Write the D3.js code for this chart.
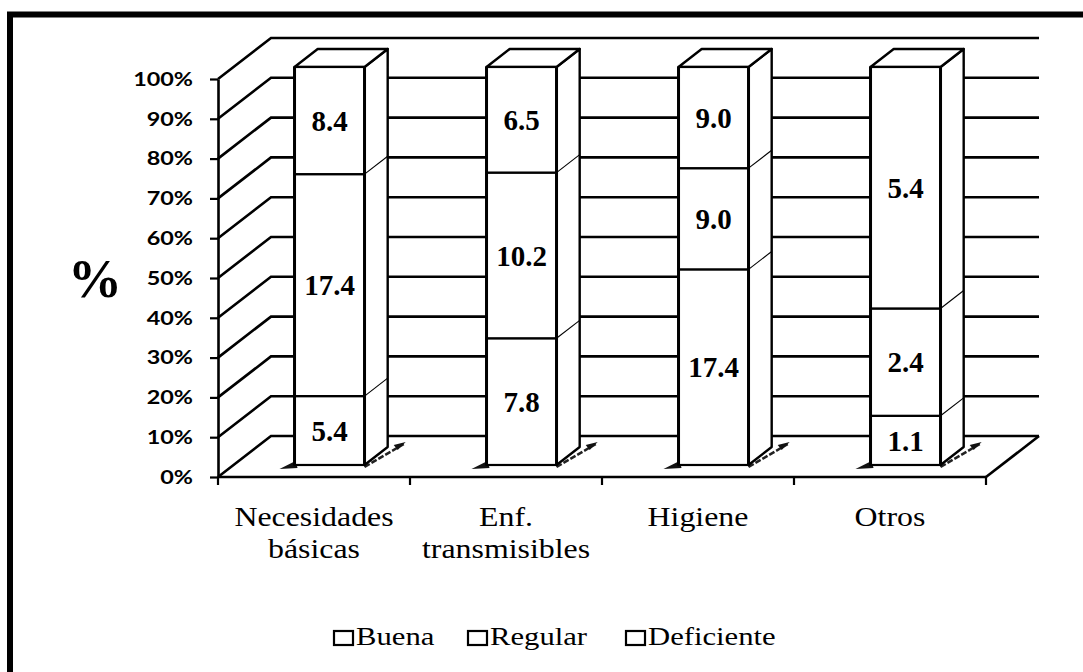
<!DOCTYPE html>
<html>
<head>
<meta charset="utf-8">
<script src="https://cdn.jsdelivr.net/npm/d3@7"></script>
<style>
  html, body { margin: 0; padding: 0; background: #fff; }
  svg { display: block; }
</style>
</head>
<body>
<svg id="chart" width="1083" height="672"></svg>
<script>
// ---- data ----
const categories = ["Necesidades básicas", "Enf. transmisibles", "Higiene", "Otros"];
const seriesNames = ["Buena", "Regular", "Deficiente"];
const buena      = [5.4, 7.8, 17.4, 1.1];
const regular    = [17.4, 10.2, 9.0, 2.4];
const deficiente = [8.4, 6.5, 9.0, 5.4];
const yTicks = [0, 10, 20, 30, 40, 50, 60, 70, 80, 90, 100];

// ---- layout ----
const svg = d3.select("#chart");
const SERIF = "'Liberation Serif', 'Times New Roman', serif";
const SANS = "Lato, 'Open Sans', sans-serif";
const DX = 53, DY = 41;          // depth of the 3D box
const zF = 0.293, zB = 0.73;     // bar front/back depth
const barW = 70;
const STRETCH = 1.18;

const x = d3.scaleBand().domain(categories).range([218, 986]).paddingInner(0).paddingOuter(0);
const y = d3.scaleLinear().domain([0, 100]).range([477, 79]);
const P = (px, v, z) => [px + z * DX, y(v) - z * DY];

// frame
svg.append("path").attr("d", "M10,672 V14.5 H1083").attr("fill", "none")
  .attr("stroke", "#000").attr("stroke-width", 6);

const g = svg.append("g");
const line = d3.line();

// back wall grid lines + left wall diagonals
yTicks.forEach(t => {
  const a = P(x.range()[0], t, 0), b = P(x.range()[0], t, 1), c = P(x.range()[1], t, 1);
  g.append("path").attr("d", line([a, b, c])).attr("fill", "none")
    .attr("stroke", "#000").attr("stroke-width", 2.6);
});
// floor right edge
g.append("path").attr("d", line([P(x.range()[1], 0, 0), P(x.range()[1], 0, 1)]))
  .attr("stroke", "#000").attr("stroke-width", 2.6);

// stacked data (normalized to 100%)
const rows = categories.map((c, i) => ({ cat: c, vals: [buena[i], regular[i], deficiente[i]] }));

rows.forEach(r => {
  const total = d3.sum(r.vals);
  let acc = 0;
  const segs = r.vals.map((v, k) => {
    const s = { v, k, p0: acc / total * 100, p1: (acc + v) / total * 100 };
    acc += v; return s;
  });
  const xl = x(r.cat) + (x.bandwidth() - barW) / 2;
  const xr = xl + barW;
  const bg = g.append("g");

  // floor shadow artifacts
  const fl = P(xl, 0, zF), fr = P(xr, 0, zF), br = P(xr, 0, zB);
  bg.append("path").attr("d", line([[fl[0] - 15, fl[1] + 4], [fl[0] + 1, fl[1] - 4], [fl[0] + 3, fl[1] + 3]]) + "Z")
    .attr("fill", "#111");
  bg.append("path").attr("d", line([[fr[0], fr[1] + 2], [br[0] + 16, br[1] - 3]]))
    .attr("stroke", "#222").attr("stroke-width", 2.5).attr("stroke-dasharray", "6,2");
  bg.append("path").attr("d", line([[br[0] + 6, br[1] - 2], [br[0] + 18, br[1] - 5], [br[0] + 10, br[1] + 3]]) + "Z")
    .attr("fill", "#111");

  // side face (whole)
  bg.append("path").attr("d", line([P(xr, 0, zF), P(xr, 0, zB), P(xr, 100, zB), P(xr, 100, zF)]) + "Z")
    .attr("fill", "#fff").attr("stroke", "#000").attr("stroke-width", 2.4).attr("stroke-linejoin", "round");
  // internal boundaries on side face
  segs.slice(0, -1).forEach(s => {
    bg.append("path").attr("d", line([P(xr, s.p1, zF), P(xr, s.p1, zB)]))
      .attr("stroke", "#000").attr("stroke-width", 1.1);
  });
  // top face
  bg.append("path").attr("d", line([P(xl, 100, zF), P(xl, 100, zB), P(xr, 100, zB), P(xr, 100, zF)]) + "Z")
    .attr("fill", "#fff").attr("stroke", "#000").attr("stroke-width", 2.4).attr("stroke-linejoin", "round");
  // front faces
  segs.forEach(s => {
    const top = P(xl, s.p1, zF), bot = P(xl, s.p0, zF);
    bg.append("rect").attr("x", top[0]).attr("y", top[1]).attr("width", barW).attr("height", bot[1] - top[1])
      .attr("fill", "#fff").attr("stroke", "#000").attr("stroke-width", 2.2);
  });
  // thicker vertical front edges
  [xl, xr].forEach(xx => {
    bg.append("path").attr("d", line([P(xx, 0, zF), P(xx, 100, zF)]))
      .attr("stroke", "#000").attr("stroke-width", 3);
  });
  // value labels
  segs.forEach(s => {
    const c = P(xl + barW / 2, (s.p0 + s.p1) / 2, zF);
    bg.append("text").attr("x", c[0]).attr("y", c[1]).attr("dy", "0.35em")
      .attr("text-anchor", "middle").attr("font-family", SERIF).attr("font-weight", "bold")
      .attr("font-size", 29).text(s.v.toFixed(1));
  });
});

// y axis
const yAxis = d3.axisLeft(y).tickValues(yTicks).tickFormat(d => d + "%").tickSize(8).tickSizeOuter(0).tickPadding(17);
const ya = svg.append("g").attr("transform", "translate(218,0)").call(yAxis);
ya.select(".domain").attr("stroke", "#000").attr("stroke-width", 2.6);
ya.selectAll(".tick line").attr("stroke", "#000").attr("stroke-width", 2.2);
ya.selectAll(".tick text").attr("font-family", SANS).attr("font-weight", "bold").attr("font-size", 19.5)
  .attr("fill", "#000")
  .each(function () {
    const t = d3.select(this);
    const xx = +t.attr("x");
    t.attr("x", xx / 1.2).attr("transform", "scale(1.2,1)");
  });

// x axis (front floor edge + ticks at category boundaries)
svg.append("path").attr("d", line([[x.range()[0], y(0)], [x.range()[1], y(0)]]))
  .attr("stroke", "#000").attr("stroke-width", 2.6);
const bounds = categories.map(c => x(c)).concat([x.range()[1]]);
svg.selectAll(".xt").data(bounds).join("path").attr("class", "xt")
  .attr("d", d => line([[d, y(0)], [d, y(0) + 8]]))
  .attr("stroke", "#000").attr("stroke-width", 2.2);

// category labels
categories.forEach(c => {
  const cx = x(c) + x.bandwidth() / 2;
  const words = c.split(" ");
  const t = svg.append("text").attr("transform", `translate(${cx},526) scale(${STRETCH},1)`)
    .attr("text-anchor", "middle").attr("font-family", SERIF).attr("font-size", 27).attr("fill", "#000");
  words.forEach((w, i) => t.append("tspan").attr("x", 0).attr("y", i * 32).text(w));
});

// big % axis title
svg.append("text").attr("x", 95).attr("y", 297).attr("text-anchor", "middle")
  .attr("font-family", SERIF).attr("font-weight", "bold").attr("font-size", 54).text("%");

// legend
const legX = [333, 467, 625];
seriesNames.forEach((n, i) => {
  const lg = svg.append("g").attr("transform", `translate(${legX[i]},0)`);
  lg.append("rect").attr("x", 1).attr("y", 631).attr("width", 19).attr("height", 14)
    .attr("fill", "#fff").attr("stroke", "#000").attr("stroke-width", 2.2);
  lg.append("text").attr("transform", `translate(23,645) scale(${STRETCH},1)`)
    .attr("font-family", SERIF).attr("font-size", 26).attr("fill", "#000").text(n);
});
</script>
</body>
</html>
